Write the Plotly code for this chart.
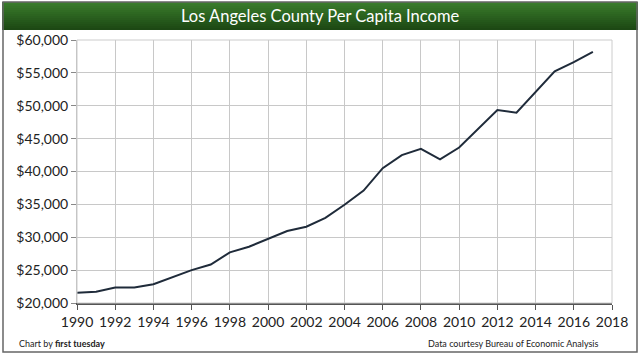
import plotly.graph_objects as go

years = list(range(1990, 2018))
income = [21550, 21700, 22350, 22350, 22850, 23900, 25000, 25850, 27700, 28550,
          29750, 30950, 31600, 32950, 34950, 37100, 40500, 42500, 43450, 41850,
          43650, 46450, 49350, 48950, 52050, 55250, 56650, 58200]

y_ticks = [20000, 25000, 30000, 35000, 40000, 45000, 50000, 55000, 60000]
y_labels = ["$" + f"{v:,}" for v in y_ticks]
x_ticks = list(range(1990, 2019, 2))

title_text = "Los Angeles County Per Capita Income"
credit_left = "Chart by <b>first tuesday</b>"
credit_right = "Data courtesy Bureau of Economic Analysis"

FONT = "Lato, Carlito, Calibri, sans-serif"

fig = go.Figure()
fig.add_trace(go.Scatter(x=years, y=income, mode="lines",
                         line=dict(color="#1f2b3a", width=2), hoverinfo="skip"))

shapes = []
# gradient title bar
top_c = (0x3a, 0x7d, 0x2c)
bot_c = (0x1d, 0x48, 0x14)
n = 14
y0p, y1p = 2, 30
for i in range(n):
    t = i / (n - 1)
    c = tuple(int(top_c[k] + (bot_c[k] - top_c[k]) * t) for k in range(3))
    ya = y0p + (y1p - y0p) * i / n
    yb = y0p + (y1p - y0p) * (i + 1) / n
    shapes.append(dict(type="rect", xref="paper", yref="paper",
                       x0=(2 - 77) / 535, x1=(638 - 77) / 535,
                       y0=(303 - yb) / 263, y1=(303 - ya) / 263,
                       fillcolor="rgb(%d,%d,%d)" % c, line=dict(width=0), layer="below"))
# outer border
shapes.append(dict(type="rect", xref="paper", yref="paper",
                   x0=(3 - 77) / 535, x1=(637 - 77) / 535,
                   y0=(303 - 352) / 263, y1=(303 - 2) / 263,
                   fillcolor="rgba(0,0,0,0)", line=dict(color="#666666", width=1.5)))
# plot frame (top/right)
shapes.append(dict(type="rect", xref="paper", yref="paper", x0=0, x1=1, y0=0, y1=1,
                   fillcolor="rgba(0,0,0,0)", line=dict(color="#cccccc", width=1)))

fig.update_layout(
    width=640, height=354,
    margin=dict(l=77, r=28, t=40, b=51),
    paper_bgcolor="white", plot_bgcolor="white",
    showlegend=False,
    shapes=shapes,
    font=dict(family=FONT, color="#222222"),
    xaxis=dict(range=[1990, 2018], tickvals=x_ticks, ticktext=[str(v) for v in x_ticks],
               showgrid=True, gridcolor="#c8c8c8", gridwidth=1,
               showline=True, linecolor="#555555", linewidth=1.5,
               ticks="outside", ticklen=5, tickcolor="#555555",
               tickfont=dict(size=14, family=FONT, color="#222222"), zeroline=False),
    yaxis=dict(range=[20000, 60000], tickvals=y_ticks, ticktext=y_labels,
               showgrid=True, gridcolor="#c8c8c8", gridwidth=1,
               showline=True, linecolor="#bdbdbd", linewidth=1,
               ticks="outside", ticklen=5, tickcolor="#888888",
               tickfont=dict(size=14, family=FONT, color="#222222"), zeroline=False),
    annotations=[
        dict(text=title_text, xref="paper", yref="paper",
             x=(320 - 77) / 535, y=(303 - 16) / 263, xanchor="center", yanchor="middle",
             showarrow=False, font=dict(size=16.5, color="white", family=FONT)),
        dict(text=credit_left, xref="paper", yref="paper",
             x=(17 - 77) / 535, y=(303 - 343) / 263, xanchor="left", yanchor="middle",
             showarrow=False, font=dict(size=9, color="#222222", family=FONT)),
        dict(text=credit_right, xref="paper", yref="paper",
             x=(601 - 77) / 535, y=(303 - 343) / 263, xanchor="right", yanchor="middle",
             showarrow=False, font=dict(size=9, color="#222222", family=FONT)),
    ],
)

fig.write_html("out.html")
